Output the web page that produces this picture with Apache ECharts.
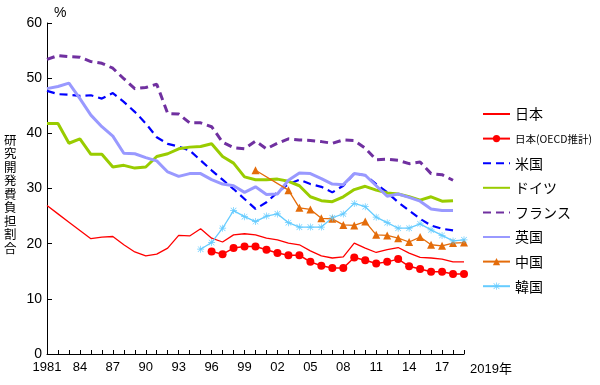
<!DOCTYPE html>
<html>
<head>
<meta charset="utf-8">
<script src="https://cdn.jsdelivr.net/npm/echarts@6/dist/echarts.min.js"></script>
<style>html,body{margin:0;padding:0;background:#fff}#c{width:600px;height:385px}</style>
</head>
<body>
<div id="c"></div>
<script>
var years = [];
for (var y = 1981; y <= 2019; y++) years.push(String(y));

var japan = [26.9,25.4,23.9,22.4,20.9,21.2,21.3,19.8,18.5,17.8,18.1,19.2,21.5,21.4,22.7,21.0,20.3,21.6,21.8,21.6,21.0,20.7,20.1,19.8,18.7,17.8,17.4,17.6,20.1,19.2,18.4,18.9,19.3,18.3,17.5,17.4,17.2,16.7,16.7];
var japanOECD = [null,null,null,null,null,null,null,null,null,null,null,null,null,null,null,18.6,18.1,19.2,19.5,19.5,18.9,18.3,17.9,17.9,16.7,16.0,15.6,15.6,17.5,17.0,16.4,16.7,17.2,15.9,15.4,14.9,14.9,14.5,14.5];
var us = [47.7,47.1,47.0,46.8,46.9,46.3,47.3,45.7,43.9,41.8,39.3,38.1,37.6,36.9,35.1,33.3,31.6,29.9,28.1,26.3,27.5,29.3,30.8,31.6,30.8,30.3,29.3,30.5,32.7,32.4,30.8,29.3,27.5,26.0,24.5,23.3,22.7,22.4,null];
var germany = [41.8,41.8,38.2,39.0,36.2,36.2,33.9,34.2,33.7,33.9,35.8,36.3,37.2,37.5,37.6,38.1,35.8,34.6,32.1,31.6,31.6,31.7,31.3,30.5,28.5,27.8,27.6,28.5,29.8,30.4,29.7,29.2,29.0,28.5,27.9,28.5,27.7,27.8,null];
var france = [53.4,54.1,53.9,53.8,53.0,52.7,51.8,49.9,48.1,48.3,48.9,43.6,43.5,41.9,41.9,41.2,38.4,37.4,37.2,38.6,37.2,38.2,39.0,38.8,38.7,38.5,38.2,38.8,38.7,37.3,35.2,35.3,35.1,34.5,34.8,32.7,32.5,31.5,null];
var uk = [48.1,48.5,49.1,46.3,43.3,41.2,39.5,36.4,36.3,35.6,35.0,33.0,32.2,32.7,32.7,31.6,30.8,30.5,29.3,30.3,28.9,29.0,31.5,32.8,32.7,31.8,30.8,30.7,32.7,32.4,30.5,28.6,29.0,28.4,27.7,26.3,26.0,26.0,null];
var china = [null,null,null,null,null,null,null,null,null,null,null,null,null,null,null,null,null,null,null,33.3,null,null,29.7,26.5,26.2,24.6,24.5,23.4,23.3,24.0,21.6,21.5,21.0,20.3,21.2,19.8,19.6,20.1,20.2];
var korea = [null,null,null,null,null,null,null,null,null,null,null,null,null,null,19.0,20.2,22.8,26.0,24.9,24.0,25.0,25.4,23.8,23.0,23.0,23.0,24.7,25.4,27.3,26.7,24.8,23.8,22.8,22.8,23.6,22.5,21.5,20.5,20.7];

var names = ['日本','日本(OECD推計)','米国','ドイツ','フランス','英国','中国','韓国'];
var marked = ['日本(OECD推計)','中国','韓国'];
var yTicks = [0,10,20,30,40,50,60];
var yAxisTitle = '研究開発費負担割合';

var asterisk = 'path://M4.5 0L5.5 0L5.5 10L4.5 10Z M0 4.5L10 4.5L10 5.5L0 5.5Z M0.7 1.3L1.3 0.7L9.3 8.7L8.7 9.3Z M8.7 0.7L9.3 1.3L1.3 9.3L0.7 8.7Z';

var chart = echarts.init(document.getElementById('c'), null, {renderer: 'canvas'});
var FONT = '"Liberation Sans", Arial, "Noto Sans CJK JP", sans-serif';
var JP = '"Noto Sans CJK JP", sans-serif';
function lineSeries(name, data, color, width, dash, symbol, size) {
  return {
    name: name, type: 'line', data: data, connectNulls: true,
    symbol: symbol || 'none', symbolSize: size || 0,
    showSymbol: !!symbol, showAllSymbol: true,
    lineStyle: {color: color, width: width, type: dash || 'solid'},
    itemStyle: {color: color}
  };
}
chart.setOption({
  animation: false,
  textStyle: {fontFamily: FONT, color: '#000'},
  grid: {left: 47, right: 136, top: 23, bottom: 31, containLabel: false},
  legend: {
    orient: 'vertical', left: 477, top: 101,
    itemWidth: 27, itemHeight: 9, itemGap: 8.6,
    textStyle: {fontSize: 14, lineHeight: 16, color: '#000', fontFamily: JP,
      rich: {s: {fontSize: 10.5, lineHeight: 16, fontFamily: JP, color: '#000'}}},
    formatter: function (n) { return n === '日本(OECD推計)' ? '{s|' + n + '}' : n; },
    data: names.map(function (n) {
      return marked.indexOf(n) >= 0 ? {name: n} : {name: n, itemStyle: {opacity: 0}};
    })
  },
  xAxis: {
    type: 'category', data: years, boundaryGap: false,
    name: '2019年', nameLocation: 'end', nameGap: 6,
    nameTextStyle: {fontSize: 13, color: '#000', verticalAlign: 'top', padding: [9, 0, 0, 0], fontFamily: FONT},
    axisLine: {lineStyle: {color: '#000', width: 1}},
    axisTick: {show: true, inside: true, length: 4, interval: 0, alignWithLabel: true, lineStyle: {color: '#000'}},
    axisLabel: {
      fontSize: 13, color: '#000', margin: 7,
      interval: function (i) { return i % 3 === 0 && i < 38; },
      formatter: function (v, i) { return i === 0 ? v : v.slice(2); }
    },
    splitLine: {show: false}
  },
  yAxis: {
    type: 'value', min: 0, max: 60, interval: 10,
    axisLine: {show: true, lineStyle: {color: '#000', width: 1}},
    axisTick: {show: true, inside: true, length: 5, lineStyle: {color: '#000'}},
    axisLabel: {fontSize: 14, color: '#000', margin: 5,
      formatter: function (v) { return yTicks.indexOf(v) >= 0 ? String(v) : ''; }},
    splitLine: {show: false}
  },
  graphic: [
    {type: 'text', left: 54, top: 6, style: {text: '%', fontSize: 14, fill: '#000', fontFamily: FONT}},
    {type: 'text', left: 4, top: 133, style: {text: yAxisTitle.split('').join('\n'), fontSize: 12.5, lineHeight: 13.5, fill: '#000', fontFamily: JP}}
  ],
  series: [
    lineSeries(names[0], japan, '#FF0000', 1.3),
    lineSeries(names[1], japanOECD, '#FF0000', 1.5, null, 'circle', 8),
    lineSeries(names[2], us, '#0000FF', 2.2, [8, 5]),
    lineSeries(names[3], germany, '#99CC00', 3),
    lineSeries(names[4], france, '#7030A0', 3, [8, 5]),
    lineSeries(names[5], uk, '#9999FF', 3),
    lineSeries(names[6], china, '#E46C0A', 1.3, null, 'triangle', 8),
    lineSeries(names[7], korea, '#66CCFF', 1.3, null, asterisk, 7)
  ]
});
</script>
</body>
</html>
